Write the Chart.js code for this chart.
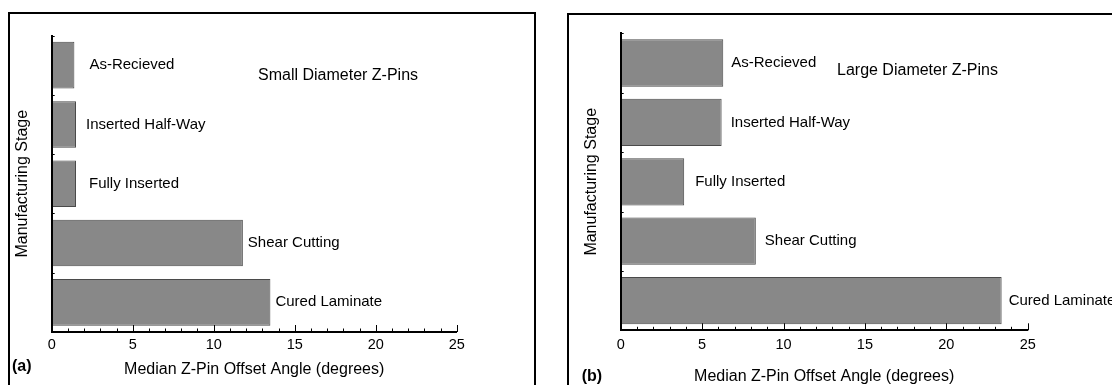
<!DOCTYPE html>
<html><head><meta charset="utf-8">
<script src="https://cdn.jsdelivr.net/npm/chart.js@4.4.1/dist/chart.umd.min.js"></script>
<style>
html,body{margin:0;padding:0;background:#fff;width:1112px;height:385px;overflow:hidden;}
#wrapA{position:absolute;left:0;top:0;width:556px;height:385px;}
#wrapB{position:absolute;left:556px;top:0;width:556px;height:385px;}
canvas{display:block;}
</style></head><body>
<div id="wrapA"><canvas id="chartA" width="556" height="385"></canvas></div>
<div id="wrapB"><canvas id="chartB" width="556" height="385"></canvas></div>
<script>
// ---- data ----
const stages = ['As-Recieved', 'Inserted Half-Way', 'Fully Inserted', 'Shear Cutting', 'Cured Laminate'];
const smallDiameterAngles = [1.4, 1.5, 1.5, 11.8, 13.5];
const largeDiameterAngles = [6.3, 6.2, 3.9, 8.3, 23.4];
const xTickMin = 0;
const xTickMax = 25;
const xMinorStep = 1;
const xMajorStep = 5;
const panelTitles = ['Small Diameter Z-Pins', 'Large Diameter Z-Pins'];
const panelTags = ['(a)', '(b)'];
const xAxisTitle = 'Median Z-Pin Offset Angle (degrees)';
const yAxisTitle = 'Manufacturing Stage';

const FONT = "'Liberation Sans', Arial, Helvetica, sans-serif";
const TEXT = '#000';

const decorPlugin = {
  id: 'decor',
  beforeDraw(chart, args, o) {
    const ctx = chart.ctx;
    ctx.save();
    ctx.fillStyle = '#fff';
    ctx.fillRect(0, 0, chart.width, chart.height);
    ctx.strokeStyle = '#000';
    ctx.lineWidth = 2;
    ctx.beginPath();
    o.frame.forEach((p, i) => i ? ctx.lineTo(p[0], p[1]) : ctx.moveTo(p[0], p[1]));
    ctx.stroke();
    ctx.restore();
  },
  afterDatasetsDraw(chart, args, o) {
    const ctx = chart.ctx;
    const xs = chart.scales.x, ys = chart.scales.y;
    ctx.save();
    ctx.strokeStyle = '#000';
    ctx.lineWidth = 1;
    ctx.beginPath();
    xs.ticks.forEach(t => {
      const px = Math.round(xs.getPixelForValue(t.value)) + 0.5;
      const len = (t.value % xMajorStep === 0) ? o.majorLen : o.minorLen;
      ctx.moveTo(px, xs.top);
      ctx.lineTo(px, xs.top - len);
    });
    const half = (ys.getPixelForValue(1) - ys.getPixelForValue(0)) / 2;
    for (let i = 0; i < chart.data.labels.length; i++) {
      const py = Math.round(ys.getPixelForValue(i) - half) + 0.5;
      ctx.moveTo(ys.right, py);
      ctx.lineTo(ys.right + o.yTickLen, py);
    }
    ctx.stroke();

    ctx.fillStyle = TEXT;
    ctx.textBaseline = 'middle';
    ctx.textAlign = 'left';
    ctx.font = '15px ' + FONT;
    const meta = chart.getDatasetMeta(0);
    meta.data.forEach((bar, i) => {
      ctx.fillText(chart.data.labels[i], bar.x + o.labelGaps[i], bar.y);
    });
    ctx.font = '16px ' + FONT;
    ctx.fillText(o.title, o.titlePos[0], o.titlePos[1]);
    ctx.font = 'bold 16px ' + FONT;
    ctx.fillText(o.tag, o.tagPos[0], o.tagPos[1]);
    ctx.restore();
  }
};

function makeChart(canvasId, values, cfg) {
  return new Chart(document.getElementById(canvasId), {
    type: 'bar',
    data: {
      labels: stages,
      datasets: [{
        data: values,
        backgroundColor: '#888888',
        borderColor: '#4a4a4a',
        borderWidth: 1,
        borderSkipped: false,
        barPercentage: cfg.barPct,
        categoryPercentage: 1
      }]
    },
    options: {
      indexAxis: 'y',
      responsive: false,
      animation: false,
      devicePixelRatio: 1,
      layout: { padding: cfg.padding },
      plugins: {
        legend: { display: false },
        tooltip: { enabled: false },
        decor: {
          frame: cfg.frame,
          majorLen: 7,
          minorLen: 3.5,
          yTickLen: 3,
          labelGaps: cfg.labelGaps,
          title: cfg.title,
          titlePos: cfg.titlePos,
          tag: cfg.tag,
          tagPos: cfg.tagPos
        }
      },
      scales: {
        x: {
          type: 'linear',
          min: xTickMin,
          max: xTickMax,
          grid: { display: false, drawTicks: false },
          border: { display: true, color: '#000', width: 2, z: 1 },
          ticks: {
            stepSize: xMinorStep,
            autoSkip: false,
            maxRotation: 0,
            padding: cfg.tickPad,
            color: TEXT,
            font: { family: FONT, size: 14.5 },
            callback: v => (v % xMajorStep === 0 ? String(v) : '')
          },
          title: {
            display: true,
            text: xAxisTitle,
            color: TEXT,
            font: { family: FONT, size: 16, lineHeight: 1 },
            padding: { top: 0, bottom: cfg.xTitlePad }
          },
          afterFit: s => { s.height = cfg.xAxisHeight; }
        },
        y: {
          grid: { display: false, drawTicks: false },
          border: { display: true, color: '#000', width: 2, z: 1 },
          ticks: { display: false },
          title: {
            display: true,
            text: yAxisTitle,
            color: TEXT,
            font: { family: FONT, size: 16, lineHeight: 1.2 },
            padding: { top: 0, bottom: 0 }
          },
          afterFit: s => { s.width = cfg.yAxisWidth; }
        }
      }
    },
    plugins: [decorPlugin]
  });
}

makeChart('chartA', smallDiameterAngles, {
  barPct: 0.785,
  padding: { left: 13.4, right: 99.3, top: 35.5, bottom: 0 },
  yAxisWidth: 38.3,
  xAxisHeight: 53,
  tickPad: 4.6,
  xTitlePad: 7.2,
  frame: [[9, 400], [9, 13], [535, 13], [535, 400]],
  labelGaps: [15, 10, 13, 5, 5],
  title: panelTitles[0],
  titlePos: [258, 75.5],
  tag: panelTags[0],
  tagPos: [12, 366.7]
});

makeChart('chartB', largeDiameterAngles, {
  barPct: 0.797,
  padding: { left: 26.1, right: 84.3, top: 33.3, bottom: 0 },
  yAxisWidth: 38.6,
  xAxisHeight: 54.7,
  tickPad: 6.3,
  xTitlePad: 0,
  frame: [[12, 400], [12, 14], [600, 14]],
  labelGaps: [8, 9, 11, 9, 7],
  title: panelTitles[1],
  titlePos: [281, 70.5],
  tag: panelTags[1],
  tagPos: [25.7, 376.5]
});
</script>
</body></html>
